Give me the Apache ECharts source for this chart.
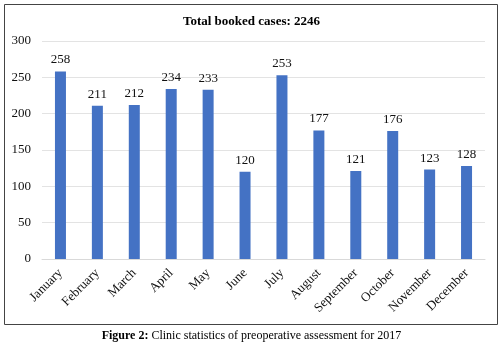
<!DOCTYPE html>
<html>
<head>
<meta charset="utf-8">
<script src="https://cdn.jsdelivr.net/npm/echarts@6/dist/echarts.min.js"></script>
<style>
  html, body { margin: 0; padding: 0; background: #fff; }
  #chart { width: 503px; height: 351px; }
</style>
</head>
<body>
<div id="chart"></div>
<script>
const months = ['January', 'February', 'March', 'April', 'May', 'June',
  'July', 'August', 'September', 'October', 'November', 'December'];
const cases = [258, 211, 212, 234, 233, 120, 253, 177, 121, 176, 123, 128];
const yTicks = [0, 50, 100, 150, 200, 250, 300];

const serif = '"Liberation Serif", "DejaVu Serif", serif';
const myChart = echarts.init(document.getElementById('chart'));

myChart.setOption({
  animation: false,
  textStyle: { fontFamily: serif },
  title: {
    text: 'Total booked cases: 2246',
    left: 'center',
    top: 10,
    textStyle: { fontFamily: serif, fontSize: 13, fontWeight: 'bold', color: '#000' }
  },
  grid: { left: 42, right: 18, top: 41, bottom: 92 },
  xAxis: {
    type: 'category',
    data: months,
    axisLine: { lineStyle: { color: '#d9d9d9' } },
    axisTick: { show: false },
    axisLabel: {
      rotate: 45,
      interval: 0,
      margin: 12,
      fontFamily: serif,
      fontSize: 13,
      color: '#111'
    }
  },
  yAxis: {
    type: 'value',
    min: yTicks[0],
    max: yTicks[yTicks.length - 1],
    interval: 50,
    axisLine: { show: false },
    axisTick: { show: false },
    splitLine: { lineStyle: { color: '#e3e3e3' } },
    axisLabel: { fontFamily: serif, fontSize: 13, color: '#111', margin: 11 }
  },
  series: [{
    type: 'bar',
    data: cases,
    barWidth: 11,
    itemStyle: { color: '#4472c4' },
    label: {
      show: true,
      position: 'top',
      distance: 5,
      fontFamily: serif,
      fontSize: 13,
      color: '#111'
    }
  }],
  graphic: [
    {
      type: 'rect',
      shape: { x: 4.5, y: 4.5, width: 493, height: 320 },
      style: { fill: 'none', stroke: '#444', lineWidth: 1 },
      silent: true
    },
    {
      type: 'text',
      left: 'center',
      top: 330,
      style: {
        text: '{b|Figure 2:} Clinic statistics of preoperative assessment for 2017',
        fontFamily: serif,
        fontSize: 12,
        fill: '#000',
        rich: {
          b: { fontFamily: serif, fontSize: 12, fontWeight: 'bold', fill: '#000' }
        }
      }
    }
  ]
});
</script>
</body>
</html>
